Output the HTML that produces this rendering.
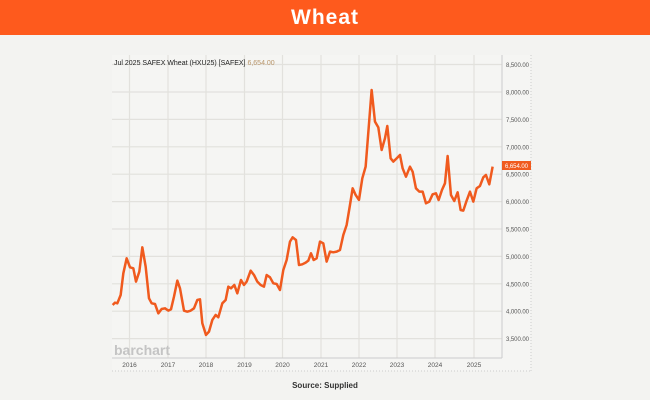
<!DOCTYPE html>
<html><head><style>
html,body{margin:0;padding:0;width:650px;height:400px;overflow:hidden;background:#f3f3f1;font-family:"Liberation Sans",sans-serif}
.bar{position:absolute;left:0;top:0;width:650px;height:35px;background:#fe5a1d;color:#fff;font-size:21px;font-weight:bold;letter-spacing:1px;text-align:center;line-height:35px}
</style></head><body>
<div class="bar">Wheat</div>
<svg width="650" height="400" style="position:absolute;left:0;top:0" font-family="Liberation Sans, sans-serif">
<rect x="112" y="55" width="419" height="316" fill="#f5f5f3"/>
<line x1="531" y1="55" x2="531" y2="371" stroke="#ccc" stroke-dasharray="1,2"/>
<line x1="112" y1="371" x2="531" y2="371" stroke="#ccc" stroke-dasharray="1,2"/>
<g stroke="#e2e1dd" stroke-width="1.2">
<line x1="112" x2="502" y1="64.5" y2="64.5"/><line x1="112" x2="502" y1="92" y2="92"/>
<line x1="112" x2="502" y1="119.4" y2="119.4"/><line x1="112" x2="502" y1="146.8" y2="146.8"/>
<line x1="112" x2="502" y1="174.2" y2="174.2"/><line x1="112" x2="502" y1="201.6" y2="201.6"/>
<line x1="112" x2="502" y1="229" y2="229"/><line x1="112" x2="502" y1="256.4" y2="256.4"/>
<line x1="112" x2="502" y1="283.8" y2="283.8"/><line x1="112" x2="502" y1="311.2" y2="311.2"/>
<line x1="112" x2="502" y1="338.6" y2="338.6"/>
<line y1="55" y2="358" x1="129.5" x2="129.5"/><line y1="55" y2="358" x1="168" x2="168"/>
<line y1="55" y2="358" x1="206" x2="206"/><line y1="55" y2="358" x1="244.5" x2="244.5"/>
<line y1="55" y2="358" x1="282.5" x2="282.5"/><line y1="55" y2="358" x1="321" x2="321"/>
<line y1="55" y2="358" x1="359" x2="359"/><line y1="55" y2="358" x1="397" x2="397"/>
<line y1="55" y2="358" x1="435" x2="435"/><line y1="55" y2="358" x1="474" x2="474"/>
</g>
<line x1="502" y1="55" x2="502" y2="358" stroke="#ccc"/>
<line x1="112" y1="358" x2="502" y2="358" stroke="#ccc"/>
<g font-size="6" fill="#555" text-anchor="start">
<text x="506" y="67" textLength="23">8,500.00</text><text x="506" y="94.5" textLength="23">8,000.00</text>
<text x="506" y="122" textLength="23">7,500.00</text><text x="506" y="149.3" textLength="23">7,000.00</text>
<text x="506" y="176.7" textLength="23">6,500.00</text><text x="506" y="204" textLength="23">6,000.00</text>
<text x="506" y="231.5" textLength="23">5,500.00</text><text x="506" y="259" textLength="23">5,000.00</text>
<text x="506" y="286.3" textLength="23">4,500.00</text><text x="506" y="313.7" textLength="23">4,000.00</text>
<text x="506" y="341" textLength="23">3,500.00</text>
</g>
<rect x="502" y="161" width="29" height="9" fill="#f05a1e"/>
<text x="505" y="168" font-size="6" fill="#fff" textLength="23">6,654.00</text>
<g font-size="6.5" fill="#555" text-anchor="middle">
<text x="129.5" y="367">2016</text><text x="168" y="367">2017</text><text x="206" y="367">2018</text>
<text x="244.5" y="367">2019</text><text x="282.5" y="367">2020</text><text x="321" y="367">2021</text>
<text x="359" y="367">2022</text><text x="397" y="367">2023</text><text x="435" y="367">2024</text>
<text x="474" y="367">2025</text>
</g>
<text x="114" y="65" font-size="7" fill="#222">Jul 2025 SAFEX Wheat (HXU25) [SAFEX] <tspan fill="#b8956a">6,654.00</tspan></text>
<text x="114" y="355" font-size="14" fill="#c4c4c4" font-weight="bold">barchart</text>
<g transform="translate(100,40) scale(0.3333)">
<polyline fill="none" stroke="#f05a1e" stroke-width="7.5" stroke-linejoin="round" points="38,795 45,788 52,790 62,765 70,700 80,655 90,682 100,685 108,725 118,695 127,622 137,680 147,775 155,790 165,792 175,820 185,807 195,805 205,812 213,808 222,770 232,722 240,745 252,812 262,815 272,812 282,805 292,780 300,778 307,850 318,885 327,875 337,840 347,825 355,832 367,790 377,780 385,740 393,745 403,735 412,760 423,720 432,735 440,725 452,692 462,705 472,725 482,735 492,740 500,705 510,712 520,730 530,732 540,750 550,690 560,660 570,605 578,592 588,600 597,675 607,673 617,668 625,662 633,640 641,660 650,655 660,605 670,610 680,665 690,635 700,637 710,635 720,630 730,585 740,555 750,495 758,445 767,465 777,480 787,415 797,380 815,150 825,245 835,262 845,330 855,295 862,258 872,355 880,365 890,355 900,345 908,385 918,410 930,380 938,395 948,445 958,455 968,455 978,490 988,485 998,463 1008,460 1016,480 1026,450 1035,430 1043,348 1053,465 1063,483 1073,457 1082,510 1090,512 1100,482 1110,455 1120,485 1130,445 1140,438 1150,412 1158,405 1168,433 1178,380"/>
</g>
<text x="325" y="388" font-size="8" font-weight="bold" fill="#333" text-anchor="middle">Source: Supplied</text>
</svg>
</body></html>
